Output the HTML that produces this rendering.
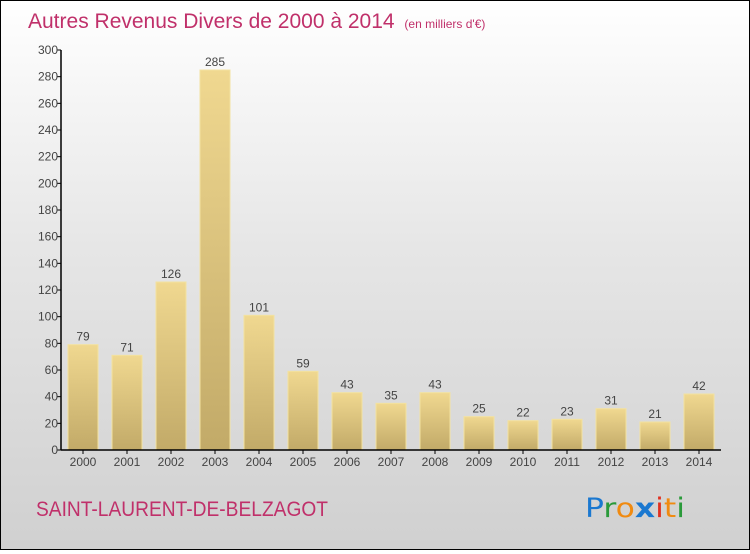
<!DOCTYPE html>
<html><head><meta charset="utf-8"><style>
html,body{margin:0;padding:0}
body{width:750px;height:550px;overflow:hidden;font-family:"Liberation Sans",sans-serif}
#wrap{position:relative;width:748px;height:548px;border:1px solid #000;background:linear-gradient(#ffffff,#e6e6e6 45%,#d0d0d0)}
</style></head><body>
<div id="wrap">
<svg id="chart" width="748" height="548">
<defs>
<linearGradient id="bg" x1="0" y1="0" x2="0" y2="1"><stop offset="0" stop-color="#f0d890"/><stop offset="1" stop-color="#c2aa68"/></linearGradient>
</defs>
<text x="27" y="27" font-size="21" fill="#c0306a">Autres Revenus Divers de 2000 à 2014 <tspan font-size="12" dx="4">(en milliers d'€)</tspan></text>
<g id="plot"></g>
<text x="35" y="515" font-size="21" fill="#c0306a" textLength="292" lengthAdjust="spacingAndGlyphs">SAINT-LAURENT-DE-BELZAGOT</text>
<text x="584" y="516" font-size="27" font-family="'DejaVu Sans',sans-serif" textLength="100" lengthAdjust="spacingAndGlyphs"><tspan fill="#1a78d0">P</tspan><tspan fill="#2a9a3a">r</tspan><tspan fill="#f08a10">o</tspan><tspan fill="#1a78d0" font-weight="bold">x</tspan><tspan fill="#e03020">i</tspan><tspan fill="#f08a10">t</tspan><tspan fill="#2a9a3a">i</tspan></text>
</svg>
</div>
<script>
const categories=["2000","2001","2002","2003","2004","2005","2006","2007","2008","2009","2010","2011","2012","2013","2014"];
const values=[79,71,126,285,101,59,43,35,43,25,22,23,31,21,42];
const yTicks=[0,20,40,60,80,100,120,140,160,180,200,220,240,260,280,300];
const NS="http://www.w3.org/2000/svg";
const g=document.getElementById("plot");
const x0=60,band=44,yBase=449,yTop=49,yMax=300;
const y=v=>yBase-(v/yMax)*(yBase-yTop);
const xc=i=>x0+band*i+band/2;
function mk(t,a){const e=document.createElementNS(NS,t);for(const k in a)e.setAttribute(k,a[k]);g.appendChild(e);return e;}
yTicks.forEach(t=>{
 const l=mk("line",{x1:x0-4,x2:x0,y1:y(t),y2:y(t),stroke:"#000"});
 
 
 const tx=mk("text",{x:x0-3,y:y(t)+4,"font-size":12,fill:"#444","text-anchor":"end"});
 tx.textContent=t;
 
 
});
values.forEach((v,i)=>{
 const r=mk("rect",{x:xc(i)-15,y:y(v),width:30,height:yBase-y(v),fill:"url(#bg)",stroke:"#f3e2a0","stroke-width":1});
 
 
 const t=mk("text",{x:xc(i),y:y(v)-4,"font-size":12,fill:"#444","text-anchor":"middle"});
 t.textContent=v;
 
 
 const tk=mk("line",{x1:xc(i),x2:xc(i),y1:yBase,y2:yBase+4,stroke:"#000"});
 
 
 const c=mk("text",{x:xc(i),y:yBase+16,"font-size":12,fill:"#444","text-anchor":"middle"});
 c.textContent=categories[i];
 
 
});
const ya=mk("line",{x1:x0,x2:x0,y1:yTop,y2:yBase,stroke:"#000","stroke-width":1.5});


const xa=mk("line",{x1:x0,x2:x0+band*categories.length,y1:yBase,y2:yBase,stroke:"#000","stroke-width":1.5});


</script>
</body></html>
